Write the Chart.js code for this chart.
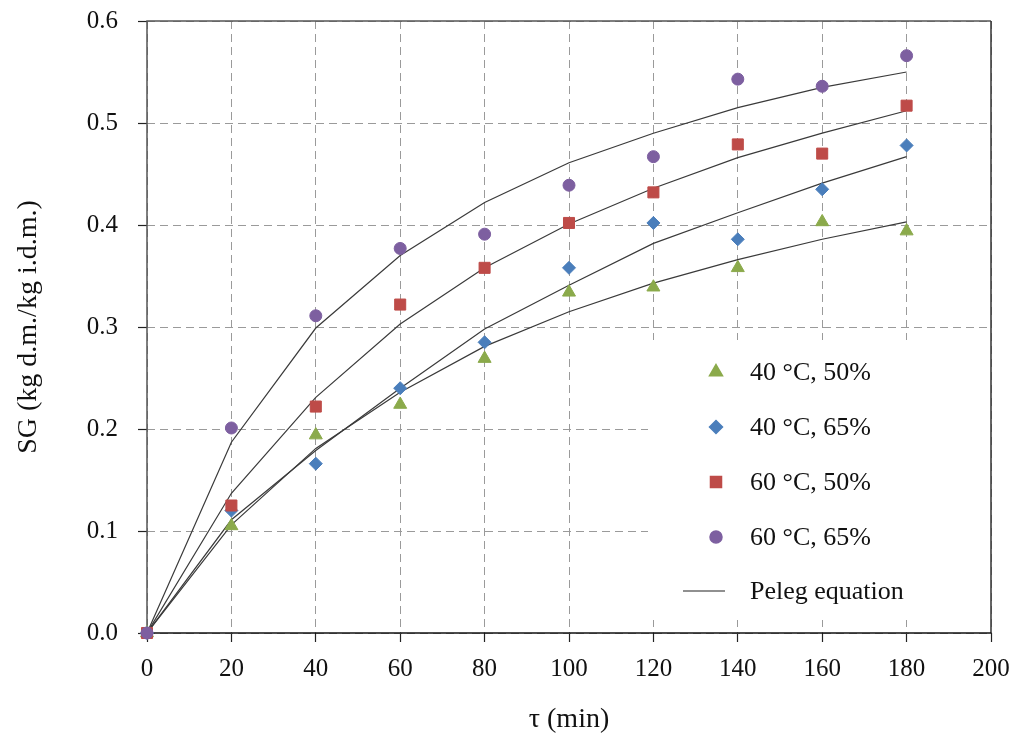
<!DOCTYPE html>
<html>
<head>
<meta charset="utf-8">
<script src="https://cdn.jsdelivr.net/npm/chart.js@4.4.1/dist/chart.umd.min.js"></script>
<style>
  html, body { margin: 0; padding: 0; background: #fff; }
  #wrap { width: 1025px; height: 740px; }
</style>
</head>
<body>
<div id="wrap"><canvas id="myChart"></canvas></div>
<script>
// datos
const minutes = [0, 20, 40, 60, 80, 100, 120, 140, 160, 180];

const sg40_50 = [0, 0.105, 0.194, 0.224, 0.269, 0.334, 0.339, 0.358, 0.403, 0.394];
const sg40_65 = [0, 0.120, 0.166, 0.240, 0.285, 0.358, 0.402, 0.386, 0.435, 0.478];
const sg60_50 = [0, 0.125, 0.222, 0.322, 0.358, 0.402, 0.432, 0.479, 0.470, 0.517];
const sg60_65 = [0, 0.201, 0.311, 0.377, 0.391, 0.439, 0.467, 0.543, 0.536, 0.566];

// curvas de la ecuacion de Peleg
const peleg40_50 = [0, 0.106, 0.181, 0.236, 0.281, 0.315, 0.343, 0.366, 0.386, 0.403];
const peleg40_65 = [0, 0.111, 0.179, 0.240, 0.298, 0.341, 0.382, 0.412, 0.441, 0.467];
const peleg60_50 = [0, 0.137, 0.231, 0.303, 0.358, 0.401, 0.436, 0.466, 0.490, 0.512];
const peleg60_65 = [0, 0.187, 0.299, 0.370, 0.422, 0.461, 0.490, 0.515, 0.535, 0.550];

const legendLabels = ['40 °C, 50%', '40 °C, 65%', '60 °C, 50%', '60 °C, 65%', 'Peleg equation'];

const xy = (vals) => minutes.map((m, i) => ({ x: m, y: vals[i] }));

const FONT = "'Liberation Serif', 'Times New Roman', serif";
const GREEN = '#8BAA4B', BLUE = '#4A7EBB', RED = '#BE4B48', VIOLET = '#7D5FA0';

function pointSet(label, vals, color, style, radius, order) {
  return {
    label: label,
    data: xy(vals),
    showLine: false,
    pointStyle: style,
    pointRadius: radius,
    pointBackgroundColor: color,
    pointBorderColor: color,
    pointBorderWidth: 1,
    clip: false,
    order: order
  };
}
function lineSet(vals) {
  return {
    label: 'Peleg equation',
    data: xy(vals),
    showLine: true,
    borderColor: '#3a3a3a',
    borderWidth: 1.2,
    pointRadius: 0,
    tension: 0,
    order: 5
  };
}

// leyenda dentro del area de la grafica
const insideLegend = {
  id: 'insideLegend',
  beforeDatasetsDraw(chart) {
    const { ctx, chartArea: a } = chart;
    ctx.save();
    ctx.fillStyle = '#fff';
    ctx.fillRect(648, 340, a.right - 648, 620 - 340);
    // marco
    ctx.lineWidth = 1.5;
    ctx.strokeStyle = '#555';
    ctx.beginPath();
    ctx.moveTo(a.left, a.bottom); ctx.lineTo(a.left, a.top); ctx.lineTo(a.right, a.top);
    ctx.stroke();
    ctx.strokeStyle = '#333';
    ctx.beginPath();
    ctx.moveTo(a.right, a.top); ctx.lineTo(a.right, a.bottom);
    ctx.stroke();
    ctx.strokeStyle = '#111';
    ctx.beginPath();
    ctx.moveTo(a.left, a.bottom); ctx.lineTo(a.right, a.bottom);
    ctx.stroke();

    const rows = [372, 427, 482, 537, 591];
    const mx = 716, tx = 750;
    const marks = [
      { style: 'triangle', r: 7.5, c: GREEN },
      { style: 'rectRot', r: 6.5, c: BLUE },
      { style: 'rect', r: 7.8, c: RED },
      { style: 'circle', r: 6, c: VIOLET }
    ];
    marks.forEach((m, i) => {
      ctx.fillStyle = m.c;
      ctx.strokeStyle = m.c;
      Chart.helpers.drawPoint(ctx, { pointStyle: m.style, radius: m.r, rotation: 0, borderWidth: 1 }, mx, rows[i]);
    });
    ctx.strokeStyle = '#222';
    ctx.lineWidth = 1.2;
    ctx.beginPath();
    ctx.moveTo(683, rows[4]); ctx.lineTo(725, rows[4]);
    ctx.stroke();

    ctx.fillStyle = '#111';
    ctx.font = '26px ' + FONT;
    ctx.textBaseline = 'middle';
    ctx.textAlign = 'left';
    legendLabels.forEach((t, i) => ctx.fillText(t, tx, rows[i] + 1));
    ctx.restore();
  }
};

const data = {
  datasets: [
    pointSet(legendLabels[0], sg40_50, GREEN, 'triangle', 7.5, 3),
    pointSet(legendLabels[1], sg40_65, BLUE, 'rectRot', 6.5, 2),
    pointSet(legendLabels[2], sg60_50, RED, 'rect', 7.8, 1),
    pointSet(legendLabels[3], sg60_65, VIOLET, 'circle', 6, 0),
    lineSet(peleg40_50),
    lineSet(peleg40_65),
    lineSet(peleg60_50),
    lineSet(peleg60_65)
  ]
};

const gridOpts = {
  color: '#9a9a9a',
  lineWidth: 1,
  tickLength: 9,
  tickColor: '#222',
  tickBorderDash: [],
  tickWidth: 1.2
};

const config = {
  type: 'scatter',
  data: data,
  options: {
    responsive: true,
    maintainAspectRatio: false,
    animation: false,
    layout: { padding: { top: 21, right: 34, left: 0, bottom: 0 } },
    plugins: {
      legend: { display: false },
      tooltip: { enabled: false }
    },
    scales: {
      x: {
        type: 'linear',
        min: 0,
        max: 200,
        ticks: { stepSize: 20, color: '#111', padding: 12, font: { family: FONT, size: 25 } },
        grid: gridOpts,
        border: { display: false, dash: [8, 5] },
        title: { display: true, text: 'τ (min)', color: '#111', padding: { top: 0, bottom: 4 }, font: { family: FONT, size: 28 } },
        afterFit(scale) { scale.height = 107; }
      },
      y: {
        type: 'linear',
        min: 0,
        max: 0.6,
        ticks: {
          stepSize: 0.1, color: '#111', padding: 20,
          font: { family: FONT, size: 25 },
          callback: (v) => v.toFixed(1)
        },
        grid: gridOpts,
        border: { display: false, dash: [8, 5] },
        title: { display: true, text: 'SG (kg d.m./kg i.d.m.)', color: '#111', padding: { top: 12, bottom: 0 }, font: { family: FONT, size: 28 } },
        afterFit(scale) {
          scale.width = 147;
          scale.paddingTop = 0;
          scale.paddingBottom = 0;
        }
      }
    }
  },
  plugins: [insideLegend]
};

const myChart = new Chart(document.getElementById('myChart').getContext('2d'), config);
</script>
</body>
</html>
